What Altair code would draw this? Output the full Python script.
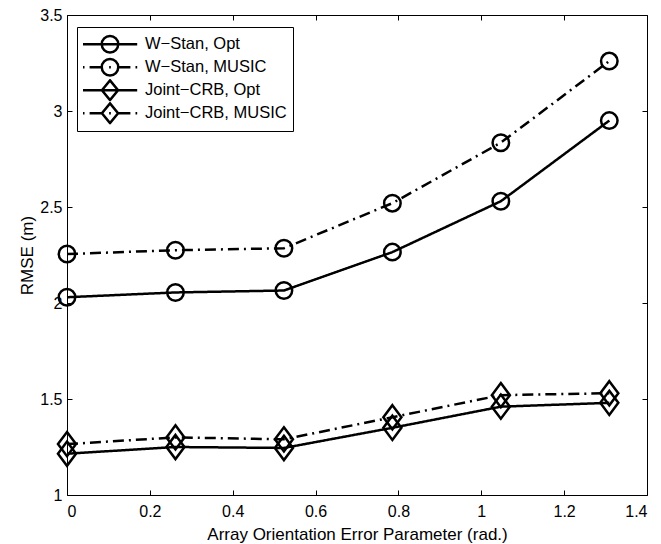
import altair as alt
import pandas as pd

# ---- data ----
x_vals = [0.0, 0.2618, 0.5236, 0.7854, 1.0472, 1.3090]
series_names = ["W−Stan, Opt", "W−Stan, MUSIC", "Joint−CRB, Opt", "Joint−CRB, MUSIC"]
wstan_opt = [2.03, 2.055, 2.065, 2.265, 2.53, 2.95]
wstan_music = [2.255, 2.275, 2.285, 2.52, 2.835, 3.26]
joint_opt = [1.215, 1.25, 1.245, 1.35, 1.46, 1.48]
joint_music = [1.265, 1.30, 1.29, 1.405, 1.52, 1.53]
x_ticks = [0, 0.2, 0.4, 0.6, 0.8, 1.0, 1.2, 1.4]
y_ticks = [1, 1.5, 2, 2.5, 3, 3.5]

rows = []
for name, vals in zip(series_names, [wstan_opt, wstan_music, joint_opt, joint_music]):
    for xv, yv in zip(x_vals, vals):
        rows.append({"x": xv, "rmse": yv, "series": name})
df = pd.DataFrame(rows)

W, H = 580, 480
FONT = "Liberation Sans"
FS = 16.5

# plot markers (unit space, size 484 -> 11 px per unit)
CIRCLE = "M0.75,0A0.75,0.75,0,1,1,-0.75,0A0.75,0.75,0,1,1,0.75,0Z"
DIAMOND = "M0,-1.1L0.82,0L0,1.1L-0.82,0Z"
# legend symbols (unit space, size 289 -> 8.5 px per unit)
L_CIRCLE = "M0.97,0A0.97,0.97,0,1,1,-0.97,0A0.97,0.97,0,1,1,0.97,0Z"
L_DIAMOND = "M0,-1.16L0.95,0L0,1.16L-0.95,0Z"
L_SOLID = "M-3.2,0L3.2,0"
L_DASHDOT = "M-3.2,0L-3.0,0M-2.4,0L-0.97,0M-0.1,0L0.1,0M0.97,0L2.4,0M3.0,0L3.2,0"

x_scale = alt.Scale(domain=[0, 1.4], nice=False, zero=False)
y_scale = alt.Scale(domain=[1, 3.5], nice=False, zero=False)


def tick_axis(orient, offset, values):
    return alt.Axis(orient=orient, offset=offset, values=values, labels=False,
                    title=None, domain=False, ticks=True, tickSize=5,
                    tickColor="black", tickWidth=1, grid=False)


label_x_axis = alt.Axis(orient="bottom", values=x_ticks, format="~g", ticks=False,
                        domain=False, grid=False, labelFont=FONT, labelFontSize=16,
                        labelColor="black", labelPadding=8, labelOverlap=False,
                        title="Array Orientation Error Parameter (rad.)",
                        titleFont=FONT, titleFontSize=17, titleFontWeight="normal",
                        titleColor="black", titlePadding=7)
label_y_axis = alt.Axis(orient="left", values=y_ticks, format="~g", ticks=False,
                        domain=False, grid=False, labelFont=FONT, labelFontSize=16,
                        labelColor="black", labelPadding=5, labelOverlap=False,
                        title="RMSE (m)", titleFont=FONT, titleFontSize=17,
                        titleFontWeight="normal", titleColor="black", titlePadding=3)

lines = alt.Chart(df).mark_line(strokeWidth=2.5, color="black").encode(
    x=alt.X("x:Q", scale=x_scale, axis=label_x_axis),
    y=alt.Y("rmse:Q", scale=y_scale, axis=label_y_axis),
    strokeDash=alt.StrokeDash("series:N", scale=alt.Scale(
        domain=series_names, range=[[1, 0], [11, 5, 2, 5], [1, 0], [11, 5, 2, 5]]),
        legend=None),
    detail="series:N",
)

points = alt.Chart(df).mark_point(size=484, filled=False, strokeWidth=2.5,
                                  color="black", opacity=1).encode(
    x=alt.X("x:Q", scale=x_scale, axis=tick_axis("top", -H, x_ticks)),
    y=alt.Y("rmse:Q", scale=y_scale, axis=tick_axis("right", -W, y_ticks)),
    shape=alt.Shape("series:N", scale=alt.Scale(
        domain=series_names, range=[CIRCLE, CIRCLE, DIAMOND, DIAMOND]), legend=None),
)

legend_layer = alt.Chart(df).mark_point(size=289, filled=False, strokeWidth=2.5,
                                        color="black", opacity=0).encode(
    x=alt.X("x:Q", scale=x_scale, axis=tick_axis("bottom", -H, x_ticks)),
    y=alt.Y("rmse:Q", scale=y_scale, axis=tick_axis("left", -W, y_ticks)),
    shape=alt.Shape("series:N", scale=alt.Scale(
        domain=series_names,
        range=[L_SOLID + L_CIRCLE, L_DASHDOT + L_CIRCLE,
               L_SOLID + L_DIAMOND, L_DASHDOT + L_DIAMOND]),
        legend=alt.Legend(title=None, orient="none", legendX=10, legendY=12,
                          strokeColor="black", fillColor="white", padding=6,
                          cornerRadius=0, symbolSize=289, symbolStrokeWidth=2.5,
                          symbolStrokeColor="black", symbolFillColor="transparent",
                          symbolOpacity=1, symbolOffset=17, labelOffset=25,
                          labelFont=FONT, labelFontSize=FS, labelColor="black",
                          rowPadding=0, clipHeight=22.5, labelLimit=0)),
)

chart = alt.layer(lines, points, legend_layer).resolve_scale(
    shape="independent", strokeDash="independent"
).resolve_axis(x="independent", y="independent").properties(
    width=W, height=H, autosize=alt.AutoSizeParams(type="none"),
    padding={"left": 67, "top": 15, "right": 14, "bottom": 49},
    background="white",
).configure_view(stroke="black", strokeWidth=1)

chart.save("out.html", embed_options={"renderer": "svg", "actions": False})
